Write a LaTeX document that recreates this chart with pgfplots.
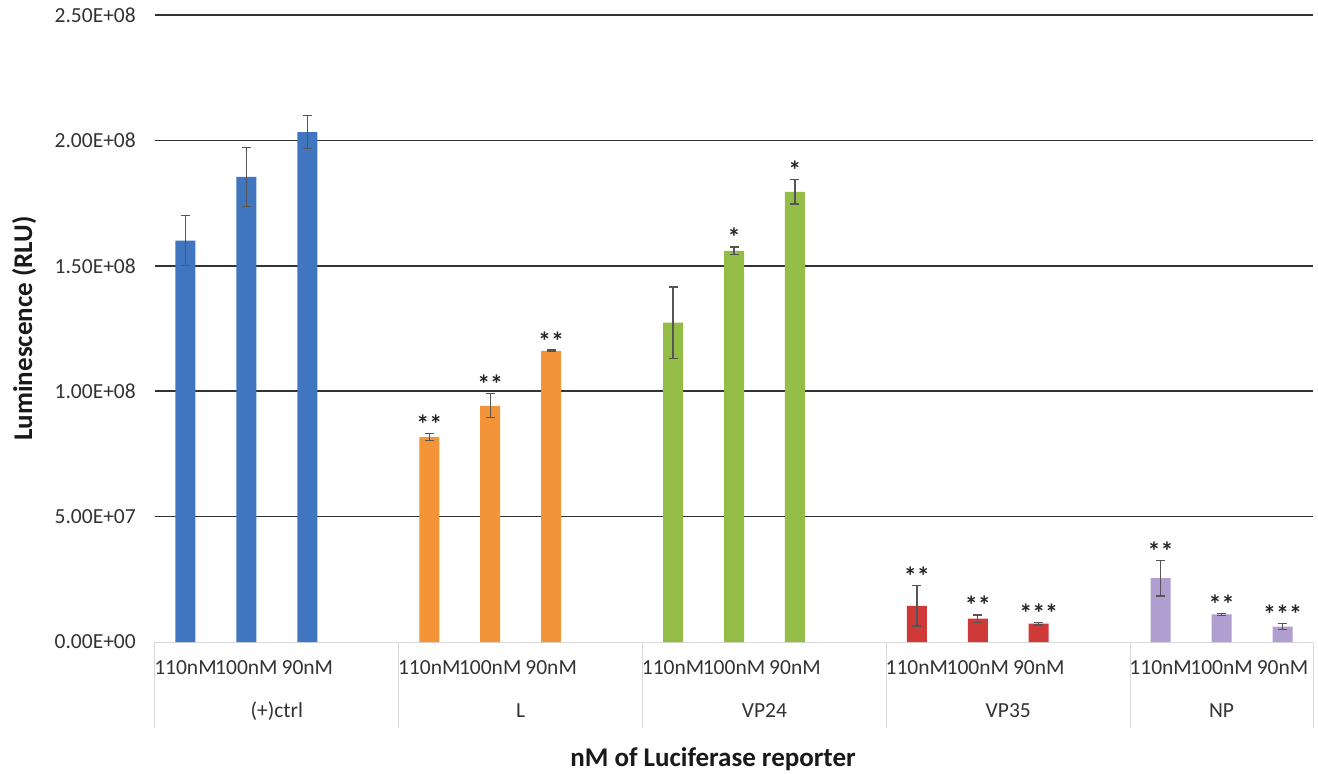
\documentclass[border=0pt]{standalone}
\usepackage{fontspec}
\setmainfont{Carlito}
\usepackage{pgfplots}
\pgfplotsset{compat=1.18}
\usepackage{pgfplotstable}
\definecolor{cblue}{RGB}{64,118,192}
\definecolor{corange}{RGB}{244,148,56}
\definecolor{cgreen}{RGB}{148,189,72}
\definecolor{cred}{RGB}{207,58,56}
\definecolor{cpurple}{RGB}{176,158,209}
\definecolor{errgray}{RGB}{85,85,85}
\definecolor{sepgray}{RGB}{217,217,217}
\newcommand{\ticksize}{\fontsize{21.5bp}{24bp}\selectfont}
\newcommand{\titlesize}{\bfseries\fontsize{27bp}{30bp}\selectfont}

\pgfplotstableread{
x y e
0 1.600e8 1.00e7
1 1.855e8 1.18e7
2 2.033e8 6.5e6
}\ctrl
\pgfplotstableread{
x y e
4 8.17e7 1.3e6
5 9.42e7 4.8e6
6 1.161e8 3e5
}\Ldata
\pgfplotstableread{
x y e
8 1.273e8 1.43e7
9 1.560e8 1.5e6
10 1.795e8 4.8e6
}\VPtf
\pgfplotstableread{
x y e
12 1.44e7 8.0e6
13 9.3e6 1.5e6
14 7.3e6 5e5
}\VPts
\pgfplotstableread{
x y e
16 2.55e7 7.1e6
17 1.10e7 3e5
18 6.1e6 1.2e6
}\NPdata
\pgfplotstableread{
x y lab
4 8.30e7 **
5 9.90e7 **
6 1.164e8 **
9 1.575e8 *
10 1.843e8 *
12 2.24e7 **
13 1.08e7 **
14 7.8e6 ***
16 3.26e7 **
17 1.13e7 **
18 7.3e6 ***
}\stars

\pgfplotsset{
  mybar/.style={ybar, bar width=20bp, bar shift=0pt, draw=none,
    /pgfplots/error bars/.cd, y dir=both, y explicit,
    error bar style={draw=errgray, line width=1.3bp},
    error mark options={rotate=90, mark size=4.5bp, draw=errgray, line width=1.3bp}}
}

\begin{document}
\begin{tikzpicture}
\begin{axis}[
  scale only axis,
  width=1158bp, height=627bp,
  xmin=-0.5, xmax=18.5,
  ymin=0, ymax=2.5e8,
  clip=false,
  axis x line*=bottom, axis y line*=left,
  x axis line style={draw=sepgray, line width=1bp, -},
  y axis line style={draw=none},
  xtick={0,1,2,4,5,6,8,9,10,12,13,14,16,17,18},
  xticklabels={110nM,100nM,90nM,110nM,100nM,90nM,110nM,100nM,90nM,110nM,100nM,90nM,110nM,100nM,90nM},
  xtick style={draw=none},
  xticklabel style={anchor=base, inner sep=0pt, yshift=-32.6bp, font=\ticksize, text=black!80},
  ytick={5e7,1e8,1.5e8,2e8,2.5e8},
  yticklabels={5.00E+07,1.00E+08,1.50E+08,2.00E+08,2.50E+08},
  extra y ticks={0},
  extra y tick labels={0.00E+00},
  extra y tick style={grid=none},
  scaled y ticks=false,
  ytick style={draw=none},
  yticklabel style={anchor=east, inner sep=0pt, xshift=-19bp, font=\ticksize, text=black!80},
  ymajorgrids,
  grid style={draw=black!80, line width=1.6bp},
  xlabel={nM of Luciferase reporter},
  xlabel style={at={(axis description cs:0.4819,-0.1989)}, anchor=base, inner sep=0pt, font=\titlesize, text=black!90},
  ylabel={Luminescence (RLU)},
  ylabel style={at={(axis description cs:-0.1062,0.5)}, anchor=base, rotate=0, inner sep=0pt, font=\titlesize, text=black!90},
]
\addplot[fill=cblue, mybar] table[x=x, y=y, y error=e] {\ctrl};
\addplot[fill=corange, mybar] table[x=x, y=y, y error=e] {\Ldata};
\addplot[fill=cgreen, mybar] table[x=x, y=y, y error=e] {\VPtf};
\addplot[fill=cred, mybar] table[x=x, y=y, y error=e] {\VPts};
\addplot[fill=cpurple, mybar] table[x=x, y=y, y error=e] {\NPdata};
\addplot[draw=none, mark=none, nodes near coords, point meta=explicit symbolic,
  nodes near coords style={anchor=base, inner sep=0pt, yshift=0bp, font=\bfseries\fontsize{26bp}{28bp}\selectfont, text=black!85}]
  table[x=x, y=y, meta=lab] {\stars};
\draw[sepgray, line width=1bp] (axis cs:-0.5,0) -- ([yshift=-86bp]axis cs:-0.5,0);
\draw[sepgray, line width=1bp] (axis cs:3.5,0) -- ([yshift=-86bp]axis cs:3.5,0);
\draw[sepgray, line width=1bp] (axis cs:7.5,0) -- ([yshift=-86bp]axis cs:7.5,0);
\draw[sepgray, line width=1bp] (axis cs:11.5,0) -- ([yshift=-86bp]axis cs:11.5,0);
\draw[sepgray, line width=1bp] (axis cs:15.5,0) -- ([yshift=-86bp]axis cs:15.5,0);
\draw[sepgray, line width=1bp] (axis cs:18.5,0) -- ([yshift=-86bp]axis cs:18.5,0);
\node[anchor=base, inner sep=0pt, font=\ticksize, text=black!80, yshift=-75bp] at (axis cs:1.5,0) {(+)ctrl};
\node[anchor=base, inner sep=0pt, font=\ticksize, text=black!80, yshift=-75bp] at (axis cs:5.5,0) {L};
\node[anchor=base, inner sep=0pt, font=\ticksize, text=black!80, yshift=-75bp] at (axis cs:9.5,0) {VP24};
\node[anchor=base, inner sep=0pt, font=\ticksize, text=black!80, yshift=-75bp] at (axis cs:13.5,0) {VP35};
\node[anchor=base, inner sep=0pt, font=\ticksize, text=black!80, yshift=-75bp] at (axis cs:17,0) {NP};
\end{axis}
\path ([shift={(-155bp,-131bp)}]current axis.south west) rectangle ([shift={(5bp,15bp)}]current axis.north east);
\end{tikzpicture}
\end{document}
